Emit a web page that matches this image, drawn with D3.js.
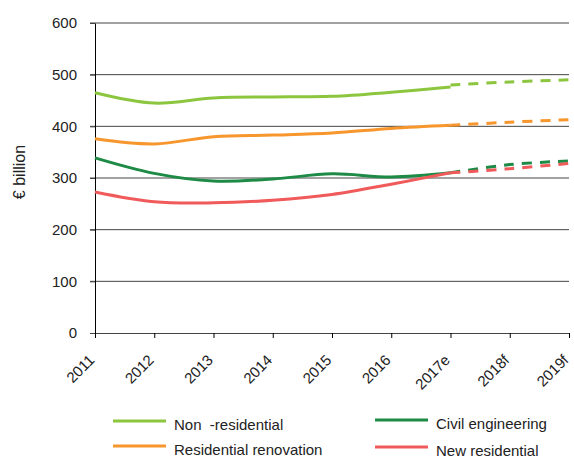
<!DOCTYPE html>
<html>
<head>
<meta charset="utf-8">
<script src="https://cdn.jsdelivr.net/npm/d3@7"></script>
<style>
  body { margin: 0; background: #fff; }
  text { font-family: "Liberation Sans", Arial, sans-serif; fill: #222; }
</style>
</head>
<body>
<svg id="chart" width="574" height="457"></svg>
<script>
const years = ['2011', '2012', '2013', '2014', '2015', '2016', '2017e', '2018f', '2019f']
const forecastYears = ['2017e', '2018f', '2019f']

const nonResidential = [465, 445, 455, 457, 458, 466, 476]
const residentialRenovation = [376, 366, 380, 383, 387, 396, 402]
const civilEngineering = [339, 309, 294, 298, 308, 302, 310]
const newResidential = [273, 254, 252, 257, 268, 288, 310]

const nonResidentialF = [480, 486, 490]
const residentialRenovationF = [402, 408, 413]
const civilEngineeringF = [310, 326, 333]
const newResidentialF = [310, 318, 328]

const yTicks = [0, 100, 200, 300, 400, 500, 600]

const series = [
    { name: 'Non  -residential', color: '#8cc63f', actual: nonResidential, forecast: nonResidentialF },
    { name: 'Residential renovation', color: '#f7962c', actual: residentialRenovation, forecast: residentialRenovationF },
    { name: 'Civil engineering', color: '#1d8a45', actual: civilEngineering, forecast: civilEngineeringF },
    { name: 'New residential', color: '#f05a5a', actual: newResidential, forecast: newResidentialF }
]

const margin = { top: 23, left: 95, right: 5, bottom: 124 }
const svg = d3.select('#chart')
const width = 574 - margin.left - margin.right
const height = 457 - margin.top - margin.bottom

const g = svg.append('g').attr('transform', `translate(${margin.left},${margin.top})`)

let x = d3.scalePoint()
    .domain(years)
    .range([0, width])

let y = d3.scaleLinear()
    .domain([0, 600])
    .range([height, 0])

// gridlines
g.append('g')
    .selectAll('line')
    .data(yTicks.filter(d => d > 0))
    .enter()
    .append('line')
    .attr('x1', -5)
    .attr('x2', width)
    .attr('y1', d => y(d))
    .attr('y2', d => y(d))
    .attr('stroke', '#444')
    .attr('stroke-width', 1)

// y axis
const yAxis = g.append('g')
    .call(d3.axisLeft(y).tickValues(yTicks).tickSize(5).tickSizeOuter(0))
yAxis.select('.domain').attr('stroke', '#000')
yAxis.selectAll('.tick line').attr('stroke', '#444')
yAxis.selectAll('text')
    .attr('font-size', 15)
    .attr('x', -18)
    .attr('fill', '#222')

// x axis
const xAxis = g.append('g')
    .attr('transform', `translate(0,${height})`)
    .call(d3.axisBottom(x).tickSize(5).tickSizeOuter(0))
xAxis.select('.domain').attr('stroke', '#444')
xAxis.selectAll('.tick line').attr('stroke', '#000')
xAxis.selectAll('text')
    .attr('font-size', 15)
    .attr('fill', '#222')
    .attr('text-anchor', 'end')
    .attr('dy', null)
    .attr('y', 0)
    .attr('transform', 'translate(0,28) rotate(-45)')

// y label
svg.append('text')
    .attr('transform', 'translate(25,172) rotate(-90)')
    .attr('text-anchor', 'middle')
    .attr('font-size', 16)
    .text('€ billion')

const line = d3.line()
    .x(d => x(d.year))
    .y(d => y(d.value))
    .curve(d3.curveCatmullRom.alpha(0.5))

series.forEach(s => {
    const actualPts = s.actual.map((v, i) => ({ year: years[i], value: v }))
    const forecastPts = s.forecast.map((v, i) => ({ year: forecastYears[i], value: v }))
    g.append('path')
        .attr('d', line(actualPts))
        .attr('fill', 'none')
        .attr('stroke', s.color)
        .attr('stroke-width', 3)
    g.append('path')
        .attr('d', line(forecastPts))
        .attr('fill', 'none')
        .attr('stroke', s.color)
        .attr('stroke-width', 3)
        .attr('stroke-dasharray', '10,8')
})

// legend
const legendPos = [
    { lx: 113, ly: 421 },
    { lx: 113, ly: 446 },
    { lx: 375, ly: 420 },
    { lx: 375, ly: 447 }
]
const legend = svg.append('g')
    .selectAll('g')
    .data(series)
    .enter()
    .append('g')
    .attr('transform', (d, i) => `translate(${legendPos[i].lx},${legendPos[i].ly})`)
legend.append('line')
    .attr('x1', 0)
    .attr('x2', 53)
    .attr('stroke', d => d.color)
    .attr('stroke-width', 3)
legend.append('text')
    .attr('x', 61)
    .attr('y', 4)
    .attr('dy', '0.3em')
    .attr('font-size', 15)
    .style('white-space', 'pre')
    .text(d => d.name)
</script>
</body>
</html>
